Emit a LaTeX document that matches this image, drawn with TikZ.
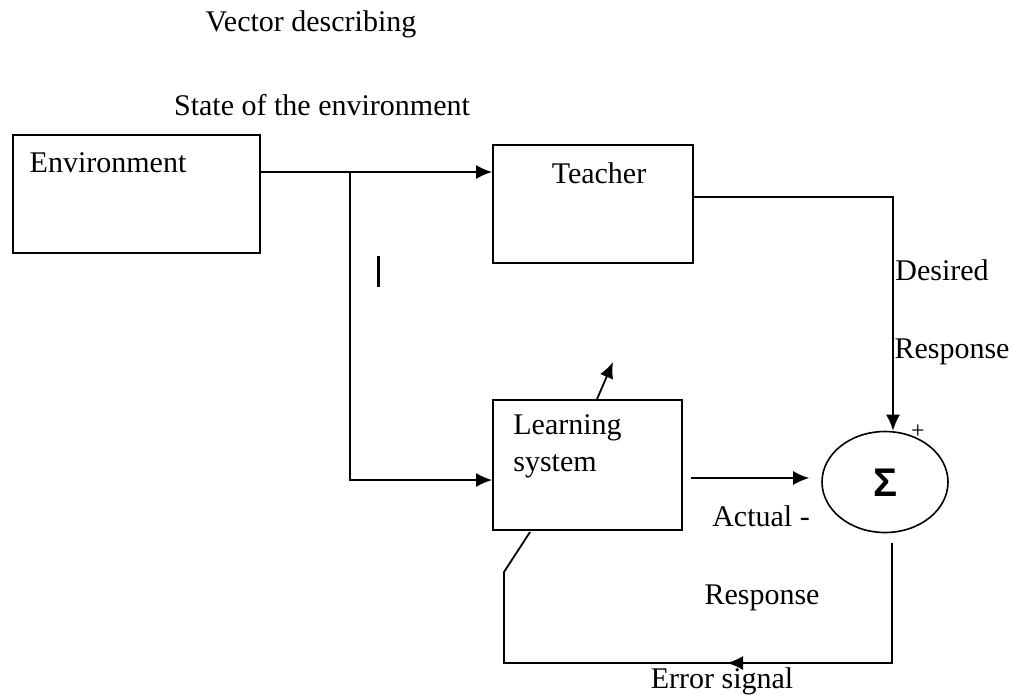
\documentclass[tikz,border=0pt]{standalone}
\usepackage{fontspec}
\setmainfont{Liberation Serif}
\newfontfamily\sigmafont{Liberation Sans}
\usetikzlibrary{arrows.meta,shapes.geometric}
\tikzset{
  block/.style={draw, line width=0.9pt, rectangle, inner sep=0pt},
  sumnode/.style={draw, line width=0.8pt, ellipse, inner sep=0pt},
  wire/.style={line width=0.9pt},
  arr/.style={wire, -{Latex[length=8pt,width=7pt]}},
  lbl/.style={inner sep=0pt, font=\fontsize{15}{18}\selectfont},
}
\begin{document}
\begin{tikzpicture}[x=0.5pt,y=-0.5pt]
\useasboundingbox (0,0) rectangle (1021,698);

% blocks
\node[block, minimum width=123.5pt, minimum height=59pt] (env) at (136.5,194) {};
\node[block, minimum width=100pt, minimum height=59pt] (teacher) at (593,204) {};
\node[block, minimum width=94.5pt, minimum height=65pt] (learn) at (587.5,465) {};
\node[sumnode, minimum width=63pt, minimum height=50.5pt] (sum) at (885,482) {};

% block texts
\node[lbl] (envtxt) at (108,163) {Environment};
\node[lbl] (teachtxt) at (599,173) {Teacher};
\node[lbl, anchor=west] (learntxt1) at (513,428) {Learning};
\node[lbl, anchor=west] (learntxt2) at (513,466) {system};
\node[inner sep=0pt, font=\sigmafont\bfseries\fontsize{20}{24}\selectfont] (sigma) at (885,483) {Σ};

% labels
\node[lbl] (vec1) at (311,24) {Vector describing};
\node[lbl] (vec2) at (322,105) {State of the environment};
\node[lbl] (des1) at (942,270) {Desired};
\node[lbl] (des2) at (952,352) {Response};
\node[lbl] (act1) at (761,516) {Actual -};
\node[lbl] (act2) at (762,598) {Response};
\node[lbl] (err) at (722,681) {Error signal};
\node[lbl, font=\fontsize{12}{14}\selectfont] (plus) at (918,432) {+};

% routing points
\coordinate (split) at (350,172);
\coordinate (lbend) at (350,480);
\coordinate (tout) at (893,197);
\coordinate (tilt) at (613,362);
\coordinate (etop) at (892,543);
\coordinate (ebr) at (892,663);
\coordinate (emid) at (727,663);
\coordinate (ebl) at (504,663);
\coordinate (ekink) at (504,572);
\coordinate (efoot) at (530,532);

% environment state to teacher and learning system
\draw[arr] (env.east |- split) -- (teacher.west |- split);
\draw[arr] (split) -- (lbend) -- (learn.west |- lbend);

% desired response
\draw[arr] (teacher.east |- tout) -- (tout) -- (tout |- sum.north);

% actual response
\draw[arr] ([xshift=4pt]learn.east |- 0,478) -- ([xshift=-6pt]sum.west |- 0,478);

% parameter adjustment arrow
\draw[arr] (learn.north -| 597,0) -- (tilt);

% error signal feedback
\draw[wire] (etop) -- (ebr) -- (ebl) -- (ekink) -- (efoot);
\draw[arr] (ebr) -- (emid);

% short vertical stroke
\draw[line width=1.5pt] (378,256) -- (378,287);
\end{tikzpicture}
\end{document}
